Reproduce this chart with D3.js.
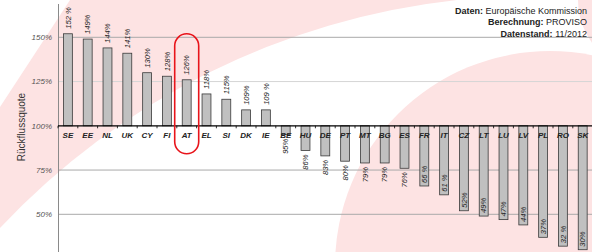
<!DOCTYPE html>
<html>
<head>
<meta charset="utf-8">
<script src="https://cdn.jsdelivr.net/npm/d3@7"></script>
<style>
  body { margin: 0; background: #fff; }
  svg { display: block; font-family: "Liberation Sans", Arial, sans-serif; }
</style>
</head>
<body>
<svg id="chart" width="592" height="252"></svg>
<script>
const countries = ["SE", "EE", "NL", "UK", "CY", "FI", "AT", "EL", "SI", "DK", "IE", "BE", "HU", "DE",
  "PT", "MT", "BG", "ES", "FR", "IT", "CZ", "LT", "LU", "LV", "PL", "RO", "SK"];
const values = [152, 149, 144, 141, 130, 128, 126, 118, 115, 109, 109, 95, 86, 83,
  80, 79, 79, 76, 66, 61, 52, 49, 47, 44, 37, 32, 30];
const valueLabels = ["152 %", "149%", "144%", "141%", "130%", "128%", "126%", "118%", "115%", "109%", "109 %",
  "95%", "86%", "83%", "80%", "79%", "79%", "76%", "66 %", "61 %", "52%", "49%", "47%", "44%", "37%", "32 %", "30%"];
const yTicks = [50, 75, 100, 125, 150];
const highlight = "AT";
const sourceLines = [["Daten:", " Europäische Kommission"], ["Berechnung:", " PROVISO"], ["Datenstand:", " 11/2012"]];

const data = countries.map((c, i) => ({ c, v: values[i], label: valueLabels[i] }));

const svg = d3.select("#chart");
const pink = "#fde3e3";

// faint logo shapes in the background
const bg = svg.append("g");
bg.append("path").attr("d", "M0,107 L70,0 L457,0 A736,736 0 0 0 0,228 Z").attr("fill", pink);
bg.append("circle").attr("cx", 550).attr("cy", 266).attr("r", 215).attr("fill", pink);
bg.append("circle").attr("cx", 650).attr("cy", 0).attr("r", 72).attr("fill", pink);

const x = d3.scaleBand().domain(countries).range([58, 592.6]).paddingInner(0.55).paddingOuter(0.275);
const y = d3.scaleLinear().domain([50, 150]).range([214.3, 37.3]);

// grid
svg.append("g").selectAll("line")
  .data(yTicks.filter(t => t !== 100))
  .join("line")
  .attr("x1", 58).attr("x2", 592)
  .attr("y1", d => y(d)).attr("y2", d => y(d))
  .attr("stroke", d => d === 125 ? "#d6d6d6" : "#a9a9a9")
  .attr("stroke-width", 1);

// y axis
svg.append("line").attr("x1", 58.5).attr("x2", 58.5).attr("y1", 4).attr("y2", 252)
  .attr("stroke", "#8a8a8a").attr("stroke-width", 1);

svg.append("g").selectAll("text")
  .data(yTicks)
  .join("text")
  .attr("x", 52).attr("y", d => y(d)).attr("dy", "0.35em")
  .attr("text-anchor", "end")
  .attr("font-size", 8).attr("font-style", "italic").attr("fill", "#555")
  .text(d => d + "%");

svg.append("text")
  .attr("transform", "translate(25,127) rotate(-90)")
  .attr("text-anchor", "middle")
  .attr("font-size", 10).attr("fill", "#333")
  .text("Rückflussquote");

// bars
const base = y(100);
svg.append("g").selectAll("rect")
  .data(data)
  .join("rect")
  .attr("x", d => x(d.c))
  .attr("y", d => Math.min(y(d.v), base))
  .attr("width", x.bandwidth())
  .attr("height", d => Math.abs(y(d.v) - base))
  .attr("fill", "#c0c0c0")
  .attr("stroke", "#3a3a3a")
  .attr("stroke-width", 0.8);

// value labels
svg.append("g").selectAll("text")
  .data(data)
  .join("text")
  .attr("transform", d => {
    const cx = x(d.c) + x.bandwidth() / 2;
    let py;
    if (d.v >= 100) py = y(d.v) - 5;
    else if (d.v > 70) py = y(d.v) + 4;
    else py = y(d.v) - 3;
    return `translate(${cx},${py}) rotate(-90)`;
  })
  .attr("dy", "0.35em")
  .attr("text-anchor", d => d.v >= 100 ? "start" : (d.v > 70 ? "end" : "start"))
  .attr("font-size", 7.6).attr("font-style", "italic").attr("fill", "#222")
  .text(d => d.label);

// x axis: baseline, boundary ticks, country labels
const xAxis = svg.append("g").attr("transform", `translate(0,${base})`)
  .call(d3.axisBottom(x).tickSize(0).tickPadding(7));
xAxis.select(".domain").remove();
xAxis.selectAll("text")
  .attr("font-family", "Liberation Sans, Arial, sans-serif")
  .attr("font-size", 8).attr("font-weight", "bold").attr("font-style", "italic").attr("fill", "#222");

svg.append("line").attr("x1", 58).attr("x2", 592).attr("y1", base).attr("y2", base)
  .attr("stroke", "#000").attr("stroke-width", 1.3);
svg.append("g").selectAll("line")
  .data(d3.range(countries.length + 1))
  .join("line")
  .attr("x1", i => x.range()[0] + i * x.step()).attr("x2", i => x.range()[0] + i * x.step())
  .attr("y1", base).attr("y2", base + 2.5)
  .attr("stroke", "#000").attr("stroke-width", 0.8);

// highlight Austria
svg.append("rect")
  .attr("x", x(highlight) + x.bandwidth() / 2 - 12)
  .attr("y", y(150) - 3.5)
  .attr("width", 24)
  .attr("height", base + 28 - (y(150) - 3.5))
  .attr("rx", 12).attr("ry", 12)
  .attr("fill", "none").attr("stroke", "#e8141b").attr("stroke-width", 1.6);

// source note
svg.append("g").selectAll("text")
  .data(sourceLines)
  .join("text")
  .attr("x", 587).attr("y", (d, i) => 13.5 + i * 11.5)
  .attr("text-anchor", "end")
  .attr("font-size", 9).attr("fill", "#222")
  .each(function (d) {
    const t = d3.select(this);
    t.append("tspan").attr("font-weight", "bold").text(d[0]);
    t.append("tspan").text(d[1]);
  });
</script>
</body>
</html>
